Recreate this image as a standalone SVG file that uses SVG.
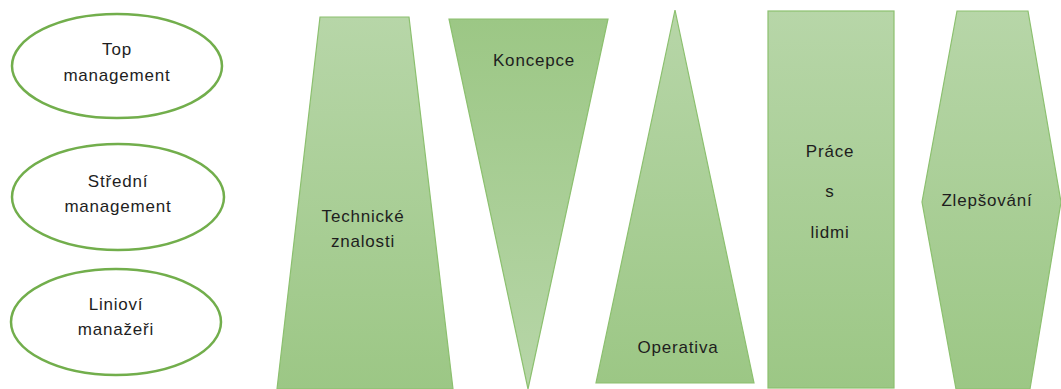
<svg xmlns="http://www.w3.org/2000/svg" width="1061" height="389" viewBox="0 0 1061 389">
<defs>
<linearGradient id="gDown" x1="0" y1="0" x2="0" y2="1">
<stop offset="0" stop-color="#b7d6a8"/>
<stop offset="1" stop-color="#9cc785"/>
</linearGradient>
<linearGradient id="gUp" x1="0" y1="0" x2="0" y2="1">
<stop offset="0" stop-color="#9cc785"/>
<stop offset="1" stop-color="#b7d6a8"/>
</linearGradient>
</defs>
<style>
.ell{fill:#ffffff;stroke:#72ae4c;stroke-width:2.5}
.shape{stroke:#8cc06f;stroke-width:1.2;fill:url(#gDown)}
.inv{fill:url(#gUp)}
text{font-family:"Liberation Sans",Arial,sans-serif;font-size:17px;letter-spacing:0.8px;fill:#1e1e1e;text-anchor:middle}
</style>
<g id="top-management">
<ellipse class="ell" cx="117" cy="66" rx="105" ry="52"/>
<text x="117" y="55">Top</text>
<text x="117" y="81">management</text>
</g>
<g id="stredni-management">
<ellipse class="ell" cx="118" cy="197" rx="106" ry="53"/>
<text x="118" y="187">Střední</text>
<text x="118" y="212">management</text>
</g>
<g id="liniovi-manazeri">
<ellipse class="ell" cx="116" cy="322" rx="105" ry="53"/>
<text x="116" y="310">Linioví</text>
<text x="116" y="335">manažeři</text>
</g>
<g id="technicke-znalosti">
<polygon class="shape" points="320,17 409,17 453,389 277,389"/>
<text x="363" y="222">Technické</text>
<text x="363" y="247">znalosti</text>
</g>
<g id="koncepce">
<polygon class="shape inv" points="449,19 608,19 528,389"/>
<text x="534" y="66">Koncepce</text>
</g>
<g id="operativa">
<polygon class="shape" points="675,10 754,383 596,383"/>
<text x="678" y="353">Operativa</text>
</g>
<g id="prace-s-lidmi">
<rect class="shape" x="768" y="11" width="126" height="377"/>
<text x="830" y="157">Práce</text>
<text x="830" y="197">s</text>
<text x="830" y="238">lidmi</text>
</g>
<g id="zlepsovani">
<polygon class="shape" points="957,11 1028,11 1061,202 1030,389 956,389 922,202"/>
<text x="987" y="206">Zlepšování</text>
</g>
<g id="connectors"></g>
</svg>
